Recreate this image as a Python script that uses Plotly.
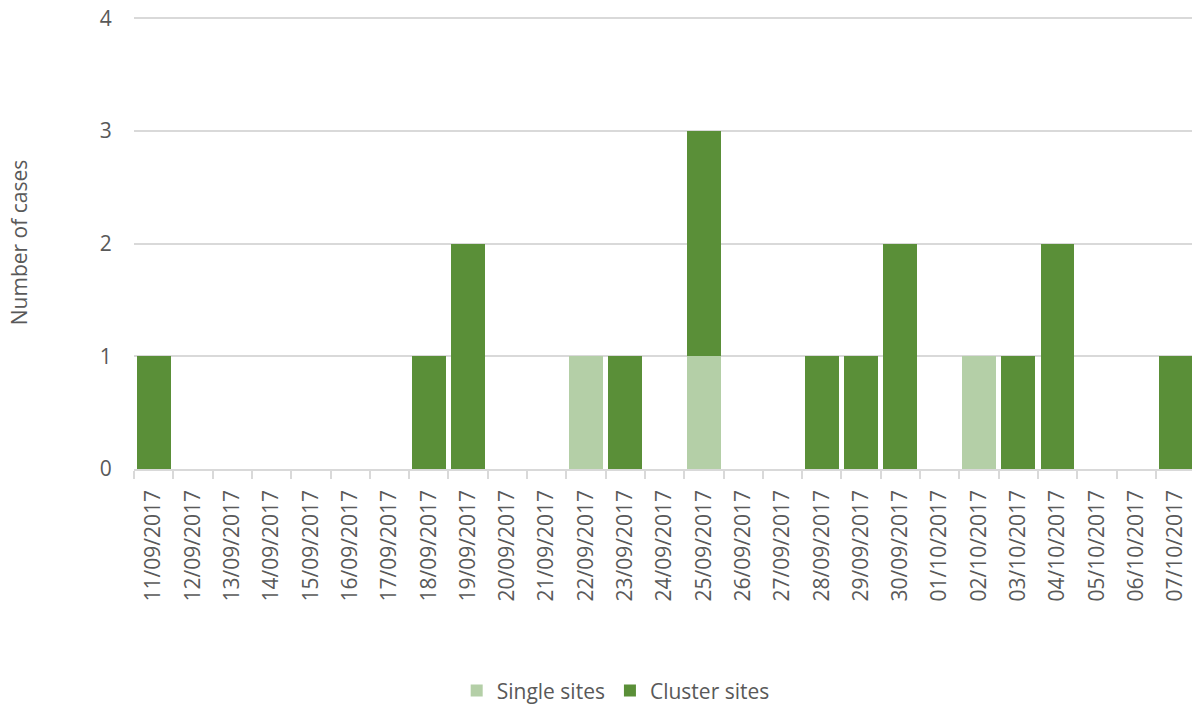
import plotly.graph_objects as go

dates = ["11/09/2017", "12/09/2017", "13/09/2017", "14/09/2017", "15/09/2017",
         "16/09/2017", "17/09/2017", "18/09/2017", "19/09/2017", "20/09/2017",
         "21/09/2017", "22/09/2017", "23/09/2017", "24/09/2017", "25/09/2017",
         "26/09/2017", "27/09/2017", "28/09/2017", "29/09/2017", "30/09/2017",
         "01/10/2017", "02/10/2017", "03/10/2017", "04/10/2017", "05/10/2017",
         "06/10/2017", "07/10/2017"]
single_sites = [0, 0, 0, 0, 0, 0, 0, 0, 0, 0, 0, 1, 0, 0, 1, 0, 0, 0, 0, 0, 0, 1, 0, 0, 0, 0, 0]
cluster_sites = [1, 0, 0, 0, 0, 0, 0, 1, 2, 0, 0, 0, 1, 0, 2, 0, 0, 1, 1, 2, 0, 0, 1, 2, 0, 0, 1]
y_ticks = [0, 1, 2, 3, 4]

font = "Open Sans"
gray = "#595959"

fig = go.Figure()
fig.add_trace(go.Bar(x=dates, y=single_sites, name="Single sites",
                     marker=dict(color="#b4cfa7", line=dict(width=0))))
fig.add_trace(go.Bar(x=dates, y=cluster_sites, name="Cluster sites",
                     marker=dict(color="#5a8f38", line=dict(width=0))))

fig.update_layout(
    width=1192, height=712,
    barmode="stack", bargap=0.14,
    plot_bgcolor="white", paper_bgcolor="white",
    margin=dict(l=134, r=0, t=16, b=243, autoexpand=False),
    font=dict(family=font, color=gray, size=20),
    legend=dict(orientation="h", x=0.305, xanchor="left", y=-0.535, yanchor="bottom",
                yref="paper", font=dict(size=21, color=gray), traceorder="normal",
                itemsizing="constant"),
    xaxis=dict(type="category", range=[-0.5, 26.42], tickangle=-90,
               showline=True, linecolor="#d9d9d9", linewidth=1.5,
               ticks="outside", tickson="boundaries", ticklen=8, tickcolor="#d9d9d9",
               tickwidth=1.5, tickfont=dict(size=21, color=gray),
               ticksuffix="\u00a0\u00a0", automargin=False),
    yaxis=dict(range=[0, 4.02], tickvals=y_ticks, showgrid=True, gridcolor="#d9d9d9",
               gridwidth=1.5, zeroline=False, tickfont=dict(size=21, color=gray),
               ticks="outside", ticklen=17, tickcolor="rgba(0,0,0,0)", automargin=False,
               title=dict(text="Number of cases", font=dict(size=21, color=gray), standoff=66)),
)

fig.write_html("out.html", post_script="document.body.style.margin='0';",
               config={"displayModeBar": False})
